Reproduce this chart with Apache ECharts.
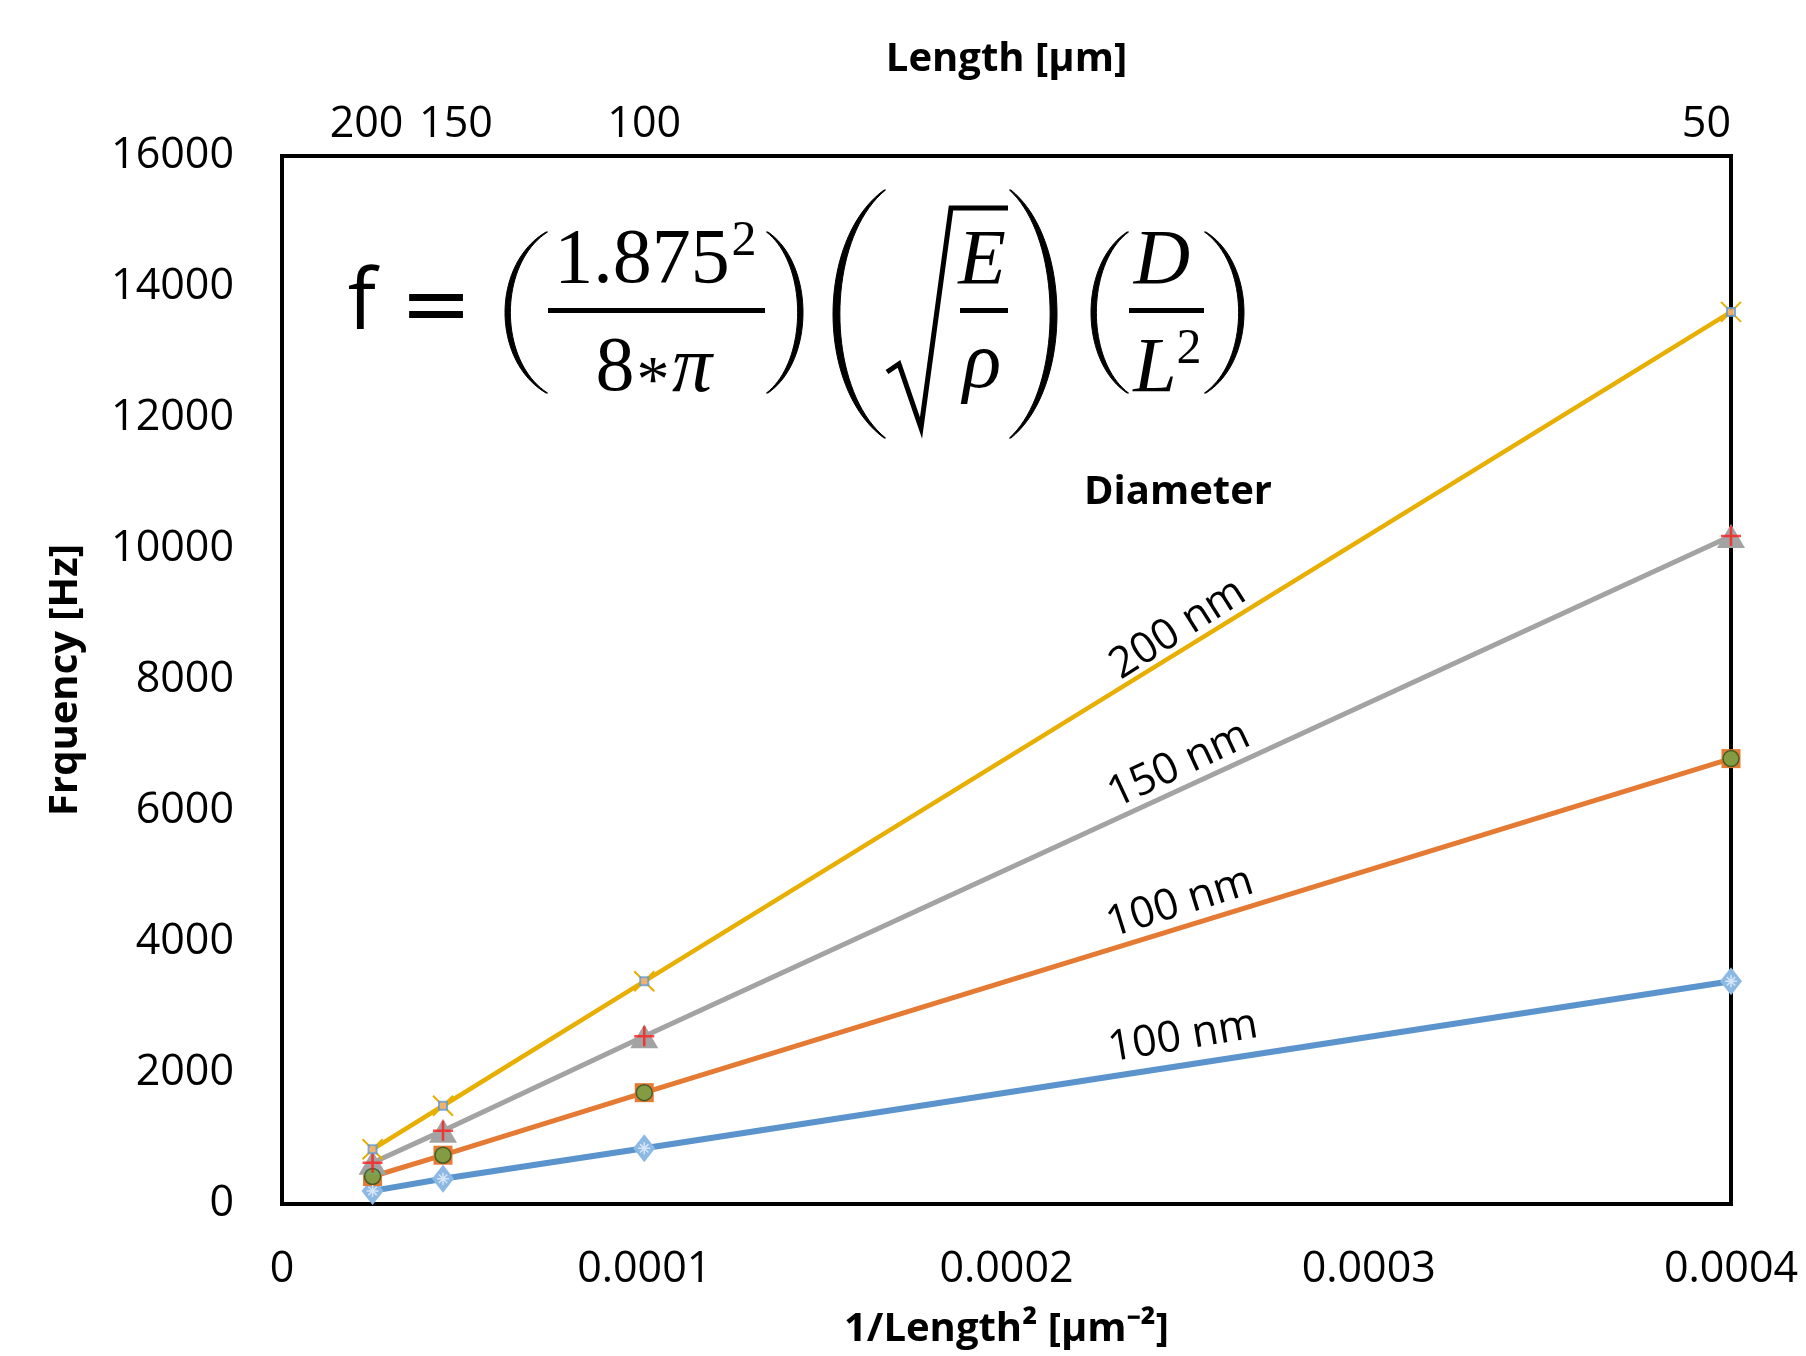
<!DOCTYPE html>
<html>
<head>
<meta charset="utf-8">
<script src="https://cdn.jsdelivr.net/npm/echarts@6/dist/echarts.min.js"></script>
<style>
html,body{margin:0;padding:0;background:#fff;}
#chart{width:1806px;height:1356px;}
</style>
</head>
<body>
<div id="chart"></div>
<script>
// ---- data ----
const lengths = [200, 150, 100, 50];            // µm (top axis tick labels)
const xValues = lengths.map(L => 1 / (L * L));   // 1/Length^2
const blueVals   = [200, 385, 850, 3400];
const orangeVals = [420, 745, 1700, 6800];
const grayVals   = [630, 1120, 2560, 10200];
const yellowVals = [835, 1500, 3400, 13620];
const seriesLabels = ['200 nm', '150 nm', '100 nm', '100 nm'];
const xTickLabels = ['0', '0.0001', '0.0002', '0.0003', '0.0004'];
const yTickLabels = ['0','2000','4000','6000','8000','10000','12000','14000','16000'];

const pts = vals => xValues.map((x, i) => [x, vals[i]]);

const FONT = 'Open Sans';
const SERIF = 'Liberation Serif';
const C = {
  blue: '#5b93cc', orange: '#e47a33', gray: '#a3a3a3', yellow: '#e8ae00',
  green: '#6aa547', red: '#ff1a1a'
};

const chart = echarts.init(document.getElementById('chart'), null, {renderer: 'canvas'});

// parenthesis glyph shape: crescent polygon. tipX = x of the two tips, bulgeX = extreme x at middle
function paren(bulgeX, tipX, yt, yb, thick) {
  const dir = bulgeX < tipX ? 1 : -1;   // 1 for "(", -1 for ")"
  const n = 40, out = [], inn = [];
  const bez = (p0, p1, p2, p3, t) => {
    const u = 1 - t;
    return u*u*u*p0 + 3*u*u*t*p1 + 3*u*t*t*p2 + t*t*t*p3;
  };
  const h = yb - yt;
  const cxO = (8 * bulgeX - 2 * tipX) / 6;
  const cxI = (8 * (bulgeX + dir * thick) - 2 * tipX) / 6;
  const a = yt + h * 0.2, b = yb - h * 0.2;
  for (let i = 0; i <= n; i++) {
    const t = i / n;
    out.push([bez(tipX, cxO, cxO, tipX, t), bez(yt, a, b, yb, t)]);
  }
  for (let i = n; i >= 0; i--) {
    const t = i / n;
    inn.push([bez(tipX + dir * 1.5, cxI, cxI, tipX + dir * 1.5, t), bez(yt, a, b, yb, t)]);
  }
  return { type: 'polygon', shape: { points: out.concat(inn) }, style: { fill: '#000', stroke: '#000', lineWidth: 1 }, z: 10 };
}
function txt(x, y, text, font) {
  return { type: 'text', x: x, y: y, z: 10,
    style: { text: text, font: font, fill: '#000', textAlign: 'center', textVerticalAlign: 'middle' } };
}
const bar = (x, y, w) => ({ type: 'rect', shape: { x: x, y: y, width: w, height: 5 }, style: { fill: '#000' }, z: 10 });

const formula = [
  txt(362, 305, 'f', '84px "' + FONT + '"'),
  txt(436, 311, '=', '86px "DejaVu Sans"'),
  // (1.875^2 / 8*pi)
  paren(505, 546, 232, 393, 5),
  txt(642, 262, '1.875', '78px "' + SERIF + '"'),
  txt(744, 242, '2', '50px "' + SERIF + '"'),
  bar(548, 308, 217),
  txt(615, 370, '8', '78px "' + SERIF + '"'),
  txt(653, 384, '*', '66px "' + SERIF + '"'),
  txt(692, 370, 'π', 'italic 80px "' + SERIF + '"'),
  paren(803, 768, 232, 393, 5),
  // ( sqrt(E/rho) )
  paren(833, 884, 190, 438, 6.5),
  { type: 'polyline', shape: { points: [[887, 372], [899, 364], [921, 428], [951, 208], [1008, 208]] }, style: { stroke: '#000', lineWidth: 5, fill: null }, z: 10 },
  txt(982, 262, 'E', 'italic 78px "' + SERIF + '"'),
  bar(960, 308, 48),
  txt(982, 366, 'ρ', 'italic 80px "' + SERIF + '"'),
  paren(1057, 1011, 190, 438, 6.5),
  // ( D / L^2 )
  paren(1091, 1127, 232, 393, 5),
  txt(1162, 262, 'D', 'italic 78px "' + SERIF + '"'),
  bar(1129, 308, 75),
  txt(1155, 370, 'L', 'italic 78px "' + SERIF + '"'),
  txt(1189, 350, '2', '50px "' + SERIF + '"'),
  paren(1244, 1206, 232, 393, 5)
];

const labelEls = [
  { x: 1178, y: 629, rot: 32.5 },
  { x: 1179, y: 765, rot: 25 },
  { x: 1180, y: 903, rot: 17.4 },
  { x: 1183, y: 1037, rot: 9.5 }
].map((p, i) => ({
  type: 'text', x: p.x, y: p.y, rotation: p.rot * Math.PI / 180, z: 10,
  style: { text: seriesLabels[i], font: '43px "' + FONT + '"', fill: '#000', textAlign: 'center', textVerticalAlign: 'middle' }
}));
labelEls.push({
  type: 'text', x: 1178, y: 493, z: 10,
  style: { text: 'Diameter', font: 'bold 40px "' + FONT + '"', fill: '#000', textAlign: 'center', textVerticalAlign: 'middle' }
});

const lineBase = (name, vals, color, width, symbol, size, extraItem) => ({
  name: name, type: 'line', data: pts(vals),
  lineStyle: { color: color, width: width },
  symbol: symbol, symbolSize: size,
  itemStyle: Object.assign({ color: color }, extraItem || {}),
  emphasis: { disabled: true }, z: 3, animation: false
});
const overlay = (vals, symbol, size, item) => ({
  type: 'scatter', data: pts(vals), symbol: symbol, symbolSize: size,
  itemStyle: item, emphasis: { disabled: true }, z: 5, animation: false
});

const topRich = {
  l: { fontFamily: FONT, fontSize: 43, color: '#000', padding: [0, 12, 0, 0] },
  r: { fontFamily: FONT, fontSize: 43, color: '#000', padding: [0, 0, 0, 26] },
  n: { fontFamily: FONT, fontSize: 43, color: '#000' }
};
const topStyleKey = ['l', 'r', 'n', 'n'];

chart.setOption({
  animation: false,
  backgroundColor: '#fff',
  grid: { left: 282, right: 75, top: 156, bottom: 152, show: true, borderColor: '#000', borderWidth: 4, containLabel: false, outerBoundsMode: 'none' },
  xAxis: [
    {
      type: 'value', position: 'bottom', min: 0, max: 0.0004, interval: 0.0001,
      axisLine: { show: false }, axisTick: { show: false }, splitLine: { show: false },
      axisLabel: { fontFamily: FONT, fontSize: 43, color: '#000', margin: 44,
        formatter: (v) => xTickLabels[Math.round(v / 0.0001)] },
      name: '1/Length² [µm⁻²]', nameLocation: 'middle', nameGap: 106,
      nameTextStyle: { fontFamily: FONT, fontSize: 40, fontWeight: 'bold', color: '#000' }
    },
    {
      type: 'value', position: 'top', min: 0, max: 0.0004,
      axisLine: { show: false }, axisTick: { show: false }, splitLine: { show: false },
      axisLabel: { fontFamily: FONT, fontSize: 43, color: '#000', margin: 10,
        customValues: xValues, hideOverlap: false, showMinLabel: true, showMaxLabel: true,
        alignMaxLabel: 'right', rich: topRich,
        formatter: (v) => {
          const i = xValues.findIndex(x => Math.abs(x - v) < 1e-9);
          return '{' + topStyleKey[i] + '|' + lengths[i] + '}';
        } },
      name: 'Length [µm]', nameLocation: 'middle', nameGap: 76,
      nameTextStyle: { fontFamily: FONT, fontSize: 40, fontWeight: 'bold', color: '#000' }
    }
  ],
  yAxis: {
    type: 'value', min: 0, max: 16000, interval: 2000,
    axisLine: { show: false }, axisTick: { show: false }, splitLine: { show: false },
    axisLabel: { fontFamily: FONT, fontSize: 43, color: '#000', margin: 48,
      formatter: (v) => yTickLabels[Math.round(v / 2000)] },
    name: 'Frquency [Hz]', nameLocation: 'middle', nameGap: 196, nameRotate: 90,
    nameTextStyle: { fontFamily: FONT, fontSize: 40, fontWeight: 'bold', color: '#000' }
  },
  series: [
    lineBase('blue', blueVals, C.blue, 6, 'diamond', [22, 28], { color: '#8cb8e4' }),
    lineBase('orange', orangeVals, C.orange, 5, 'rect', 19),
    lineBase('gray', grayVals, C.gray, 5, 'triangle', [28, 24]),
    lineBase('yellow', yellowVals, C.yellow, 4.5, 'path://M0,0L10,10M10,0L0,10', 20,
      { color: 'none', borderColor: C.yellow, borderWidth: 2 }),
    overlay(orangeVals, 'circle', 16, { color: C.green, borderColor: '#2f4f1f', borderWidth: 1.5 }),
    overlay(grayVals, 'path://M5,0L5,10M0,5L10,5', 20, { color: 'none', borderColor: C.red, borderWidth: 2.5 }),
    overlay(yellowVals, 'rect', 8, { color: '#f4b183', borderColor: '#5b9bd5', borderWidth: 2 }),
    overlay(blueVals, 'path://M5,0L5,10M0,5L10,5M1.5,1.5L8.5,8.5M8.5,1.5L1.5,8.5', 12, { color: 'none', borderColor: '#e8f1fa', borderWidth: 1.5 })
  ],
  graphic: formula.concat(labelEls)
});
</script>
</body>
</html>
